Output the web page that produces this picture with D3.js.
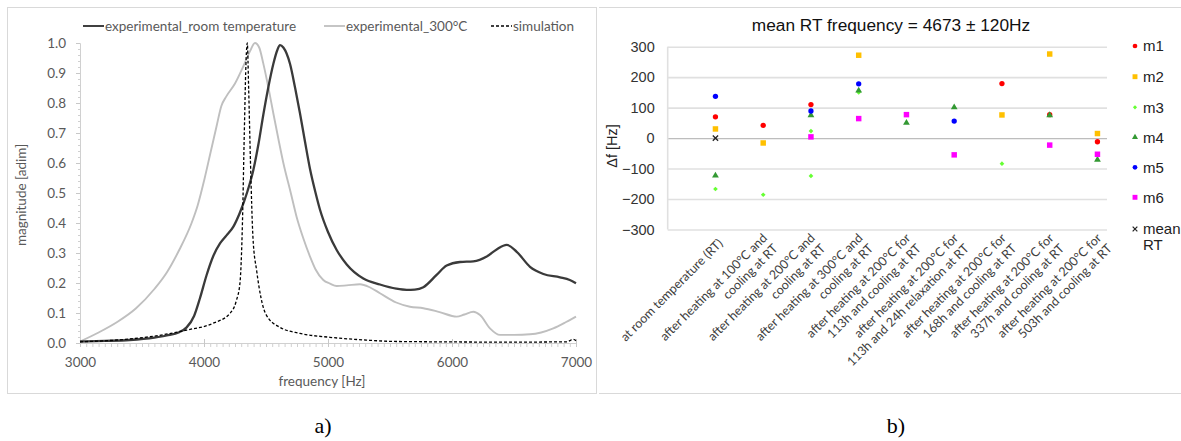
<!DOCTYPE html>
<html><head><meta charset="utf-8">
<script src="https://cdn.jsdelivr.net/npm/d3@7"></script>
<style>body{margin:0;background:#fff}svg{display:block}</style>
</head><body>
<svg id="c" width="1181" height="441"></svg>
<script>
// ---------- (a) spectra ----------
const rtFreq = [3000,3200,3400,3600,3700,3800,3860,3920,3968,4020,4075,4129,4180,4237,4290,4350,4398,4440,4478,4520,4559,4590,4613,4640,4694,4735,4774,4815,4855,4900,4935,5000,5070,5151,5285,5419,5550,5634,5700,5769,5876,5957,6065,6172,6280,6360,6441,6522,6629,6737,6871,6950,7000];
const rtMag  = [0.005,0.007,0.010,0.018,0.025,0.036,0.052,0.090,0.150,0.225,0.290,0.332,0.358,0.388,0.435,0.505,0.577,0.665,0.760,0.855,0.930,0.975,0.993,0.985,0.930,0.850,0.766,0.670,0.580,0.500,0.445,0.370,0.310,0.262,0.215,0.195,0.181,0.177,0.178,0.186,0.227,0.258,0.270,0.272,0.288,0.312,0.327,0.304,0.254,0.230,0.219,0.210,0.199];

const hotFreq = [3000,3150,3300,3450,3600,3700,3800,3900,3950,4000,4050,4100,4140,4180,4250,4320,4370,4411,4445,4478,4520,4559,4600,4640,4700,4747,4800,4855,4900,4962,5016,5070,5150,5258,5340,5419,5550,5661,5769,5900,6038,6100,6172,6226,6306,6387,6500,6629,6817,6920,7000];
const hotMag  = [0.005,0.035,0.070,0.115,0.180,0.235,0.310,0.400,0.460,0.540,0.630,0.720,0.790,0.822,0.865,0.925,0.972,1.000,0.985,0.932,0.850,0.766,0.680,0.600,0.500,0.420,0.350,0.288,0.245,0.210,0.198,0.190,0.192,0.196,0.185,0.166,0.135,0.121,0.116,0.103,0.088,0.095,0.104,0.093,0.049,0.027,0.027,0.029,0.049,0.070,0.088];

const simFreq = [3000,3300,3565,3860,4075,4210,4260,4290,4310,4325,4340,4349,4360,4375,4395,4425,4460,4500,4613,4774,5016,5300,5554,6500,6925,6978,7000];
const simMag  = [0.004,0.010,0.021,0.043,0.066,0.099,0.140,0.200,0.400,0.700,0.950,1.000,0.850,0.600,0.350,0.240,0.150,0.095,0.052,0.032,0.019,0.010,0.005,0.003,0.004,0.012,0.008];

const freqTicks = [3000,4000,5000,6000,7000];
const magTicks  = [0,0.1,0.2,0.3,0.4,0.5,0.6,0.7,0.8,0.9,1.0];
const legendA = ["experimental_room temperature","experimental_300°C","simulation"];

// ---------- (b) frequency shifts ----------
const categories = [
 ["at room temperature (RT)"],
 ["after heating at 100°C and","cooling at RT"],
 ["after heating at 200°C and","cooling at RT"],
 ["after heating at 300°C and","cooling at RT"],
 ["after heating at 200°C for","113h and cooling at RT"],
 ["after heating at 200°C for","113h and 24h relaxation at RT"],
 ["after heating at 200°C for","168h and cooling at RT"],
 ["after heating at 200°C for","337h and cooling at RT"],
 ["after heating at 200°C for","503h and cooling at RT"]
];
const m1 = [[1,70],[2,42],[3,110],[7,179],[8,77],[9,-12]];
const m2 = [[1,30],[2,-16],[4,272],[7,76],[8,276],[9,15]];
const m3 = [[1,-167],[2,-186],[3,23],[3,-124],[4,150],[7,-84]];
const m4 = [[1,-123],[3,75],[4,156],[5,50],[6,101],[8,75],[9,-71]];
const m5 = [[1,137],[3,89],[4,178],[6,56]];
const m6 = [[3,4],[4,64],[5,77],[6,-55],[8,-23],[9,-53]];
const meanRT = [[1,0]];
const dfTicks = [-300,-200,-100,0,100,200,300];
const titleB = "mean RT frequency = 4673 ± 120Hz";

const svg = d3.select("#c");
const grayTxt = "#595959";

// ================= panel a =================
svg.append("rect").attr("x",7.5).attr("y",7.5).attr("width",589).attr("height",386)
   .attr("fill","none").attr("stroke","#d9d9d9");

const fx = d3.scaleLinear().domain([3000,7000]).range([80,576]);
const fy = d3.scaleLinear().domain([0,1]).range([343,43]);
const fontA = "Lato, 'Open Sans', sans-serif";

const gxm = svg.append("g").attr("transform","translate(0,343)")
  .call(d3.axisBottom(fx).tickValues(d3.range(3000,7001,50)).tickSize(4).tickFormat(""));
const gym = svg.append("g").attr("transform","translate(80,0)")
  .call(d3.axisLeft(fy).tickValues(d3.range(0,1.0001,0.02)).tickSize(2).tickFormat(""));
[gxm,gym].forEach(g=>{g.selectAll("line").attr("stroke","#d0d0d0");g.select(".domain").remove();});

const gx = svg.append("g").attr("transform","translate(0,343)")
  .call(d3.axisBottom(fx).tickValues(freqTicks).tickSize(4).tickPadding(10).tickFormat(d3.format("d")));
const gy = svg.append("g").attr("transform","translate(80,0)")
  .call(d3.axisLeft(fy).tickValues(magTicks).tickSize(4).tickPadding(10).tickFormat(d3.format(".1f")));
[gx,gy].forEach(g=>{
  g.select(".domain").attr("stroke","#d0d0d0");
  g.selectAll(".tick line").attr("stroke","#c8c8c8");
  g.selectAll("text").attr("fill",grayTxt).style("font-family",fontA).style("font-size","13.5px");
});
gx.selectAll(".tick line").attr("y1",-4);

svg.append("text").attr("x",322).attr("y",386).attr("text-anchor","middle")
  .attr("fill",grayTxt).style("font-family",fontA).style("font-size","13.5px").text("frequency [Hz]");
svg.append("text").attr("transform","translate(26,195) rotate(-90)").attr("text-anchor","middle")
  .attr("fill",grayTxt).style("font-family",fontA).style("font-size","13.5px").text("magnitude [adim]");

const lineA = d3.line().x(d=>fx(d[0])).y(d=>fy(d[1])).curve(d3.curveMonotoneX);
const zipA = (f,m)=>f.map((v,i)=>[v,m[i]]);
svg.append("path").datum(zipA(hotFreq,hotMag)).attr("d",lineA)
  .attr("fill","none").attr("stroke","#bfbfbf").attr("stroke-width",1.9);
svg.append("path").datum(zipA(rtFreq,rtMag)).attr("d",lineA)
  .attr("fill","none").attr("stroke","#3a3a3a").attr("stroke-width",2.3);
svg.append("path").datum(zipA(simFreq,simMag)).attr("d",lineA)
  .attr("fill","none").attr("stroke","#000").attr("stroke-width",1.3).attr("stroke-dasharray","3,2");

const legA = [
  {x:83, stroke:"#404040", w:2, dash:null},
  {x:324, stroke:"#bfbfbf", w:1.8, dash:null},
  {x:491, stroke:"#000", w:1.3, dash:"3,2"}
];
legA.forEach((l,i)=>{
  svg.append("line").attr("x1",l.x).attr("x2",l.x+21).attr("y1",26).attr("y2",26)
    .attr("stroke",l.stroke).attr("stroke-width",l.w).attr("stroke-dasharray",l.dash);
  svg.append("text").attr("x",l.x+22).attr("y",26).attr("dy","0.35em")
    .attr("fill",grayTxt).style("font-family",fontA).style("font-size","13.5px").text(legendA[i]);
});

// ================= panel b =================
svg.append("line").attr("x1",599).attr("x2",1181).attr("y1",7.5).attr("y2",7.5).attr("stroke","#d9d9d9");
svg.append("line").attr("x1",599).attr("x2",1181).attr("y1",393.5).attr("y2",393.5).attr("stroke","#d9d9d9");

const fontB = "'Liberation Sans', Arial, sans-serif";
const cx = d3.scaleLinear().domain([0,9.2]).range([667.7,1107]);
const cy = d3.scaleLinear().domain([-300,300]).range([229.5,46.7]);

const grid = svg.append("g").attr("transform","translate(667.7,0)")
  .call(d3.axisLeft(cy).tickValues(dfTicks).tickSize(-(1107-667.7)).tickPadding(13).tickFormat(d3.format("d")));
grid.select(".domain").remove();
grid.selectAll(".tick line").attr("stroke",d=>d===0?"#bdbdbd":"#e0e0e0").attr("stroke-width",d=>d===0?1.2:1.6);
grid.selectAll("text").attr("fill","#333").style("font-family",fontB).style("font-size","14.5px");
svg.append("line").attr("x1",667.7).attr("x2",667.7).attr("y1",cy(300)).attr("y2",cy(-300))
  .attr("stroke","#e0e0e0").attr("stroke-width",1.6);

svg.append("text").attr("x",891).attr("y",25).attr("dy","0.35em").attr("text-anchor","middle")
  .attr("fill","#111").style("font-family",fontB).style("font-size","17.3px").text(titleB);
svg.append("text").attr("transform","translate(612,146) rotate(-90)").attr("text-anchor","middle").attr("dy","0.35em")
  .attr("fill","#222").style("font-family",fontB).style("font-size","14.5px").text("Δf  [Hz]");

categories.forEach((lines,i)=>{
  const n = lines.length;
  const g = svg.append("g").attr("transform",`translate(${cx(i+1)+(n===1?5:7)},241) rotate(-45)`);
  lines.forEach((t,j)=>{
    g.append("text").attr("x",0).attr("y",(j-(n-1)/2)*15).attr("dy","0.35em")
      .attr("text-anchor","end").attr("fill","#404040")
      .style("font-family",fontA).style("font-size","12.5px").text(t);
  });
});

const series = [
  {name:"m1", data:m1, type:d3.symbolCircle, size:22, fill:"#ff0000"},
  {name:"m2", data:m2, type:d3.symbolSquare, size:30, fill:"#ffc000"},
  {name:"m3", data:m3, type:d3.symbolDiamond2, size:14, fill:"#66ff33"},
  {name:"m4", data:m4, type:d3.symbolTriangle, size:20, fill:"#339933"},
  {name:"m5", data:m5, type:d3.symbolCircle, size:22, fill:"#0000ff"},
  {name:"m6", data:m6, type:d3.symbolSquare, size:30, fill:"#ff00ff"},
  {name:"mean RT", data:meanRT, type:d3.symbolX, size:20, fill:null, stroke:"#222"}
];
series.forEach(s=>{
  const sym = d3.symbol().type(s.type).size(s.size);
  svg.append("g").selectAll("path").data(s.data).join("path")
    .attr("transform",d=>`translate(${cx(d[0])},${cy(d[1])})`)
    .attr("d",sym)
    .attr("fill",s.fill||"none")
    .attr("stroke",s.stroke||"none").attr("stroke-width",1.3);
});

const legY = [46,76.7,107.3,137.3,167.3,197.3,229];
series.forEach((s,i)=>{
  const sym = d3.symbol().type(s.type).size(s.size*0.8);
  svg.append("path").attr("transform",`translate(1135,${legY[i]})`).attr("d",sym)
    .attr("fill",s.fill||"none").attr("stroke",s.stroke||"none").attr("stroke-width",1.2);
  s.name.split(" ").forEach((p,j)=>{
    svg.append("text").attr("x",1143).attr("y",legY[i]+j*16).attr("dy","0.35em")
      .attr("fill","#222").style("font-family",fontB).style("font-size","15px").text(p);
  });
});

svg.append("text").attr("x",323).attr("y",433).attr("text-anchor","middle")
  .style("font-family","'Liberation Serif', 'Times New Roman', serif").style("font-size","22px").text("a)");
svg.append("text").attr("x",896).attr("y",433).attr("text-anchor","middle")
  .style("font-family","'Liberation Serif', 'Times New Roman', serif").style("font-size","22px").text("b)");
</script>
</body></html>
